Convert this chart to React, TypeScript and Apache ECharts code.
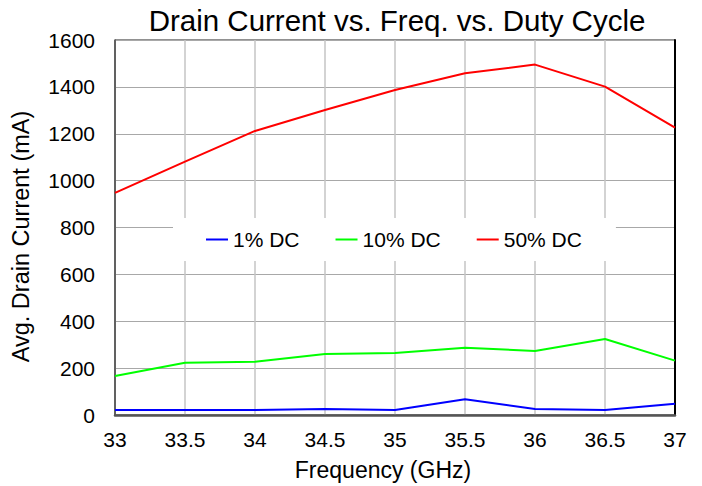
import React, { useEffect, useRef } from "react";
import * as echarts from "echarts";

const freqs = [33, 33.5, 34, 34.5, 35, 35.5, 36, 36.5, 37];
const dc1 = [21, 21, 21, 26, 21, 67, 26, 21, 48];
const dc10 = [166, 223, 227, 260, 265, 287, 273, 324, 232];
const dc50 = [948, 1081, 1212, 1301, 1387, 1458, 1495, 1401, 1226];
const seriesNames = ["1% DC", "10% DC", "50% DC"];
const seriesColors = ["#0000ff", "#00ff00", "#ff0000"];

const FONT = "'Liberation Sans', Arial, sans-serif";

export default function App() {
  const ref = useRef<HTMLDivElement>(null);
  useEffect(() => {
    if (!ref.current) return;
    const chart = echarts.init(ref.current, undefined, { renderer: "svg" });
    const all = [dc1, dc10, dc50];
    chart.setOption({
      animation: false,
      backgroundColor: "#ffffff",
      textStyle: { fontFamily: FONT, color: "#000" },
      title: {
        text: "Drain Current vs. Freq. vs. Duty Cycle",
        left: 392,
        textAlign: "center",
        top: 0,
        textStyle: { fontFamily: FONT, fontSize: 29.5, fontWeight: "normal", color: "#000" },
      },
      legend: {
        left: 173,
        top: 218,
        backgroundColor: "#ffffff",
        padding: [11, 34, 11, 33],
        itemGap: 36,
        itemWidth: 22,
        itemHeight: 2,
        icon: "rect",
        textStyle: { fontFamily: FONT, fontSize: 21, color: "#000" },
        data: seriesNames,
      },
      grid: {
        left: 115,
        right: 27,
        top: 40,
        bottom: 71,
        show: true,
        borderColor: "#222",
        borderWidth: 1,
      },
      xAxis: {
        type: "value",
        min: 33,
        max: 37,
        interval: 0.5,
        name: "Frequency (GHz)",
        nameLocation: "middle",
        nameGap: 43,
        nameTextStyle: { fontFamily: FONT, fontSize: 23, color: "#000", padding: [0, 24, 0, 0] },
        axisLine: { show: true, onZero: false, lineStyle: { color: "#555", width: 2.5 } },
        axisTick: { show: false },
        axisLabel: { fontFamily: FONT, fontSize: 21, color: "#000", margin: 14 },
        splitLine: { show: true, lineStyle: { color: "#c4c4c4", width: 1.5 } },
      },
      yAxis: [
        {
          type: "value",
          min: 0,
          max: 1600,
          interval: 200,
          name: "Avg. Drain Current (mA)",
          nameLocation: "middle",
          nameGap: 82,
          nameTextStyle: { fontFamily: FONT, fontSize: 23.5, color: "#000", padding: [0, 18, 0, 0] },
          axisLine: { show: true, lineStyle: { color: "#444", width: 1.5 } },
          axisTick: { show: false },
          axisLabel: {
            fontFamily: FONT,
            fontSize: 21,
            color: "#000",
            margin: 20,
            formatter: (v: number) => String(v),
          },
          splitLine: { show: true, lineStyle: { color: "#a8a8a8", width: 1.2 } },
        },
        {
          type: "value",
          position: "right",
          min: 0,
          max: 1600,
          interval: 200,
          axisLine: { show: true, lineStyle: { color: "#000", width: 2 } },
          axisTick: { show: false },
          axisLabel: { show: false },
          splitLine: { show: false },
        },
      ],
      series: seriesNames.map((name, i) => ({
        name,
        type: "line",
        yAxisIndex: 0,
        data: freqs.map((f, j) => [f, all[i][j]]),
        showSymbol: false,
        symbol: "none",
        lineStyle: { color: seriesColors[i], width: 2 },
        itemStyle: { color: seriesColors[i] },
        z: 2,
      })),
    });
    return () => chart.dispose();
  }, []);
  return <div ref={ref} style={{ width: 702, height: 486, position: "absolute", left: 0, top: 0 }} />;
}
